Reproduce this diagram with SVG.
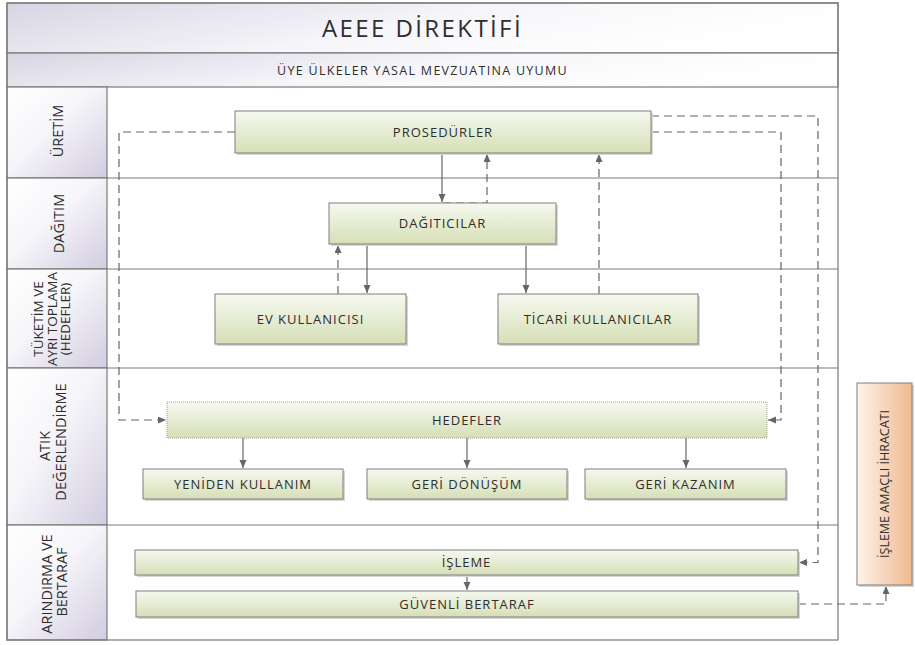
<svg xmlns="http://www.w3.org/2000/svg" width="915" height="645" viewBox="0 0 915 645">
<defs>
  <linearGradient id="gGreen" x1="0" y1="0" x2="0" y2="1">
    <stop offset="0" stop-color="#f6f9f0"/>
    <stop offset="1" stop-color="#d5dfb6"/>
  </linearGradient>
  <linearGradient id="gOrange" x1="0" y1="0" x2="1" y2="0">
    <stop offset="0" stop-color="#fdf3ec"/>
    <stop offset="1" stop-color="#f0b98f"/>
  </linearGradient>
  <linearGradient id="gLane" x1="0" y1="0" x2="1" y2="1">
    <stop offset="0" stop-color="#ffffff"/>
    <stop offset="0.45" stop-color="#f6f5f9"/>
    <stop offset="1" stop-color="#d2cce0"/>
  </linearGradient>
  <linearGradient id="gHead" x1="0" y1="0" x2="1" y2="0.3">
    <stop offset="0" stop-color="#d8d5e3"/>
    <stop offset="0.55" stop-color="#f6f5f9"/>
    <stop offset="1" stop-color="#ffffff"/>
  </linearGradient>
  <marker id="ah" markerUnits="userSpaceOnUse" markerWidth="9" markerHeight="8" refX="8" refY="3.5" orient="auto">
    <path d="M0,0 L8,3.5 L0,7 z" fill="#666666"/>
  </marker>
  <style>
    .frame { fill:none; stroke:#7a7a7a; stroke-width:1.2; }
    .cell { fill:url(#gLane); stroke:#7a7a7a; stroke-width:1.2; }
    .head { fill:url(#gHead); stroke:#7a7a7a; stroke-width:1.2; }
    .box { fill:url(#gGreen); stroke:#7f7f7f; stroke-width:1; }
    .sh { fill:#d6d6d6; }
    .t { font-family:"Open Sans","Liberation Sans",sans-serif; font-size:13px; fill:#2e2e2e; letter-spacing:1px; text-anchor:middle; }
    .lane { font-size:14.5px; letter-spacing:0; }
    .lane3 { font-size:13.5px; letter-spacing:0; }
    .c { fill:none; stroke:#666666; stroke-width:1.2; }
    .d { stroke-dasharray:8 5; }
  </style>
</defs>

<g id="frame">
  <rect x="7" y="3" width="831" height="637" fill="#ffffff" stroke="none"/>
  <rect class="head" x="7" y="3" width="831" height="50"/>
  <rect class="head" x="7" y="53" width="831" height="34"/>
  <rect class="cell" x="7" y="87" width="100" height="91"/>
  <rect class="cell" x="7" y="178" width="100" height="91"/>
  <rect class="cell" x="7" y="269" width="100" height="99"/>
  <rect class="cell" x="7" y="368" width="100" height="157"/>
  <rect class="cell" x="7" y="525" width="100" height="115"/>
  <path class="frame" d="M107,178 H838 M107,269 H838 M107,368 H838 M107,525 H838"/>
  <rect class="frame" x="7" y="3" width="831" height="637"/>
  <text class="t" x="422.5" y="37" style="font-size:24px;letter-spacing:2.4px">AEEE DİREKTİFİ</text>
  <text class="t" x="422.5" y="74.5" style="font-size:12.5px;letter-spacing:1.3px">ÜYE ÜLKELER YASAL MEVZUATINA UYUMU</text>
</g>

<g id="lane-labels">
  <text class="t lane" transform="translate(63,131) rotate(-90)">ÜRETİM</text>
  <text class="t lane" transform="translate(64,223.5) rotate(-90)">DAĞITIM</text>
  <text class="t lane3" transform="translate(43,319) rotate(-90)">TÜKETİM VE</text>
  <text class="t lane3" transform="translate(57,319) rotate(-90)">AYRI TOPLAMA</text>
  <text class="t lane3" transform="translate(70,319) rotate(-90)">(HEDEFLER)</text>
  <text class="t lane" transform="translate(50,446) rotate(-90)">ATIK</text>
  <text class="t lane" transform="translate(66,442) rotate(-90)">DEĞERLENDİRME</text>
  <text class="t lane" transform="translate(52,584) rotate(-90)">ARINDIRMA VE</text>
  <text class="t lane" transform="translate(67,582) rotate(-90)">BERTARAF</text>
</g>

<g id="connectors">
  <path class="c" d="M442,153 V202" marker-end="url(#ah)"/>
  <path class="c d" d="M443,203 H487 V154" marker-end="url(#ah)"/>
  <path class="c" d="M367,244 V293" marker-end="url(#ah)"/>
  <path class="c d" d="M338,294 V245" marker-end="url(#ah)"/>
  <path class="c" d="M526,244 V293" marker-end="url(#ah)"/>
  <path class="c d" d="M599,294 V154" marker-end="url(#ah)"/>
  <path class="c d" d="M235,132 H119 V420 H166" marker-end="url(#ah)"/>
  <path class="c d" d="M651,132 H781 V420 H768" marker-end="url(#ah)"/>
  <path class="c d" d="M651,116 H818 V562.5 H799" marker-end="url(#ah)"/>
  <path class="c" d="M243,438 V468" marker-end="url(#ah)"/>
  <path class="c" d="M467,438 V468" marker-end="url(#ah)"/>
  <path class="c" d="M686,438 V468" marker-end="url(#ah)"/>
  <path class="c" d="M467,575 V590" marker-end="url(#ah)"/>
  <path class="c d" d="M798,604 H886 V586" marker-end="url(#ah)"/>
</g>

<g id="n-prosedurler">
  <rect class="sh" x="237" y="113" width="416" height="42"/>
  <rect class="box" x="235" y="111" width="416" height="42"/>
  <text class="t" x="443" y="136.7">PROSEDÜRLER</text>
</g>
<g id="n-dagiticilar">
  <rect class="sh" x="331" y="205" width="227" height="41"/>
  <rect class="box" x="329" y="203" width="227" height="41"/>
  <text class="t" x="442.5" y="228.2">DAĞITICILAR</text>
</g>
<g id="n-ev">
  <rect class="sh" x="217" y="296" width="191" height="50"/>
  <rect class="box" x="215" y="294" width="191" height="50"/>
  <text class="t" x="310.5" y="323.7">EV KULLANICISI</text>
</g>
<g id="n-ticari">
  <rect class="sh" x="500" y="296" width="200" height="50"/>
  <rect class="box" x="498" y="294" width="200" height="50"/>
  <text class="t" x="598" y="323.7">TİCARİ KULLANICILAR</text>
</g>
<g id="n-hedefler">
  <rect x="167" y="402" width="600" height="36" fill="url(#gGreen)" stroke="#8a8a8a" stroke-width="0.8" stroke-dasharray="1 1"/>
  <text class="t" x="467" y="424.7">HEDEFLER</text>
</g>
<g id="n-yeniden">
  <rect class="sh" x="145" y="471" width="200" height="30"/>
  <rect class="box" x="143" y="469" width="200" height="30"/>
  <text class="t" x="243" y="488.7">YENİDEN KULLANIM</text>
</g>
<g id="n-geridonusum">
  <rect class="sh" x="369" y="471" width="200" height="30"/>
  <rect class="box" x="367" y="469" width="200" height="30"/>
  <text class="t" x="467" y="488.7">GERİ DÖNÜŞÜM</text>
</g>
<g id="n-gerikazanim">
  <rect class="sh" x="587" y="471" width="201" height="30"/>
  <rect class="box" x="585" y="469" width="201" height="30"/>
  <text class="t" x="685.5" y="488.7">GERİ KAZANIM</text>
</g>
<g id="n-isleme">
  <rect class="sh" x="137" y="552" width="663" height="25"/>
  <rect class="box" x="135" y="550" width="663" height="25"/>
  <text class="t" x="466.5" y="567.2">İŞLEME</text>
</g>
<g id="n-guvenli">
  <rect class="sh" x="138" y="593" width="662" height="26"/>
  <rect class="box" x="136" y="591" width="662" height="26"/>
  <text class="t" x="467" y="608.7">GÜVENLİ BERTARAF</text>
</g>
<g id="n-ihracat">
  <rect class="sh" x="859" y="385" width="55" height="202"/>
  <rect x="857" y="383" width="55" height="202" fill="url(#gOrange)" stroke="#7f7f7f" stroke-width="1"/>
  <text class="t" style="font-size:12.5px;letter-spacing:0" transform="translate(888.5,484) rotate(-90)">İŞLEME AMAÇLI İHRACATI</text>
</g>
</svg>
